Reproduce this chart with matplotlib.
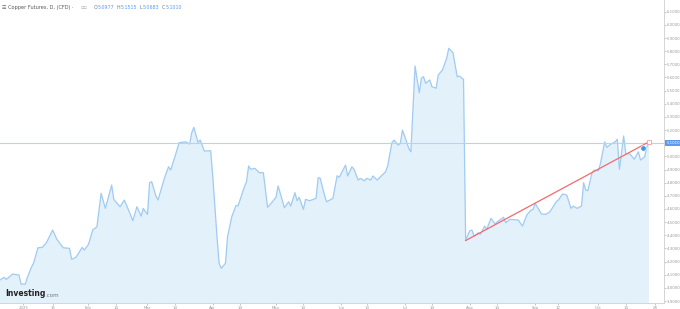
import numpy as np
import pandas as pd
import matplotlib.pyplot as plt

# daily closes (date, price)
dates = [
    "2024-12-21", "2024-12-23", "2024-12-24", "2024-12-27", "2024-12-30", "2024-12-31",
    "2025-01-02", "2025-01-03", "2025-01-05", "2025-01-06", "2025-01-08", "2025-01-10",
    "2025-01-12", "2025-01-15", "2025-01-17", "2025-01-20", "2025-01-23", "2025-01-24",
    "2025-01-26", "2025-01-29", "2025-01-30", "2025-02-01", "2025-02-03", "2025-02-05",
    "2025-02-07", "2025-02-09", "2025-02-12", "2025-02-13", "2025-02-16", "2025-02-18",
    "2025-02-21", "2025-02-22", "2025-02-24", "2025-02-26", "2025-02-27", "2025-03-01",
    "2025-03-02", "2025-03-03", "2025-03-05", "2025-03-06", "2025-03-09", "2025-03-11",
    "2025-03-12", "2025-03-14", "2025-03-16", "2025-03-19", "2025-03-21", "2025-03-22",
    "2025-03-23", "2025-03-25", "2025-03-26", "2025-03-28", "2025-03-31", "2025-04-01",
    "2025-04-03", "2025-04-04", "2025-04-05", "2025-04-07", "2025-04-08", "2025-04-10",
    "2025-04-12", "2025-04-13", "2025-04-16", "2025-04-17", "2025-04-18", "2025-04-19",
    "2025-04-21", "2025-04-23", "2025-04-25", "2025-04-27", "2025-04-28", "2025-05-01",
    "2025-05-02", "2025-05-04", "2025-05-05", "2025-05-07", "2025-05-08", "2025-05-10",
    "2025-05-11", "2025-05-12", "2025-05-14", "2025-05-15", "2025-05-17", "2025-05-20",
    "2025-05-21", "2025-05-22", "2025-05-24", "2025-05-25", "2025-05-28", "2025-05-30",
    "2025-05-31", "2025-06-03", "2025-06-04", "2025-06-06", "2025-06-07", "2025-06-09",
    "2025-06-10", "2025-06-12", "2025-06-13", "2025-06-15", "2025-06-16", "2025-06-18",
    "2025-06-20", "2025-06-22", "2025-06-23", "2025-06-25", "2025-06-26", "2025-06-28",
    "2025-06-29", "2025-06-30", "2025-07-02", "2025-07-03", "2025-07-04", "2025-07-06",
    "2025-07-08", "2025-07-09", "2025-07-10", "2025-07-11", "2025-07-13", "2025-07-14",
    "2025-07-16", "2025-07-17", "2025-07-19", "2025-07-21", "2025-07-22", "2025-07-24",
    "2025-07-26", "2025-07-27", "2025-07-29", "2025-07-30", "2025-08-01", "2025-08-02",
    "2025-08-03", "2025-08-05", "2025-08-06", "2025-08-08", "2025-08-09", "2025-08-11",
    "2025-08-13", "2025-08-14", "2025-08-17", "2025-08-18", "2025-08-20", "2025-08-24",
    "2025-08-26", "2025-08-28", "2025-08-30", "2025-08-31", "2025-09-01", "2025-09-04",
    "2025-09-06", "2025-09-08", "2025-09-11", "2025-09-12", "2025-09-14", "2025-09-16",
    "2025-09-18", "2025-09-19", "2025-09-21", "2025-09-23", "2025-09-24", "2025-09-25",
    "2025-09-26", "2025-09-28", "2025-09-29", "2025-10-01", "2025-10-02", "2025-10-04",
    "2025-10-05", "2025-10-07", "2025-10-09", "2025-10-10", "2025-10-11", "2025-10-13",
    "2025-10-14", "2025-10-16", "2025-10-18", "2025-10-20", "2025-10-21", "2025-10-23",
    "2025-10-24", "2025-10-25",
]
prices = [
    4.060, 4.080, 4.065, 4.105, 4.098, 4.029,
    4.029, 4.080, 4.161, 4.191, 4.305, 4.308,
    4.343, 4.440, 4.369, 4.305, 4.301, 4.217,
    4.232, 4.308, 4.288, 4.331, 4.440, 4.465,
    4.719, 4.605, 4.782, 4.673, 4.617, 4.668,
    4.554, 4.511, 4.617, 4.546, 4.605, 4.559,
    4.800, 4.807, 4.699, 4.668, 4.833, 4.921,
    4.896, 4.997, 5.104, 5.111, 5.094, 5.180,
    5.221, 5.107, 5.124, 5.041, 5.043, 4.845,
    4.389, 4.187, 4.149, 4.187, 4.389, 4.541,
    4.625, 4.625, 4.769, 4.807, 4.927, 4.902,
    4.909, 4.876, 4.876, 4.613, 4.630, 4.689,
    4.775, 4.663, 4.610, 4.655, 4.622, 4.724,
    4.663, 4.689, 4.597, 4.673, 4.663, 4.681,
    4.838, 4.833, 4.706, 4.655, 4.681, 4.853,
    4.841, 4.934, 4.851, 4.921, 4.902, 4.820,
    4.833, 4.815, 4.833, 4.820, 4.851, 4.820,
    4.851, 4.883, 4.927, 5.104, 5.124, 5.086,
    5.099, 5.200, 5.111, 5.061, 5.035, 5.687,
    5.484, 5.594, 5.606, 5.556, 5.581, 5.530,
    5.518, 5.619, 5.657, 5.746, 5.822, 5.788,
    5.606, 5.611, 5.586, 4.364, 4.435, 4.440,
    4.394, 4.419, 4.407, 4.470, 4.445, 4.529,
    4.486, 4.503, 4.537, 4.496, 4.521, 4.516,
    4.470, 4.554, 4.592, 4.597, 4.643, 4.562,
    4.559, 4.579, 4.655, 4.668, 4.714, 4.706,
    4.605, 4.622, 4.605, 4.622, 4.800, 4.744,
    4.739, 4.876, 4.896, 4.891, 4.947, 5.111,
    5.069, 5.094, 5.111, 5.130, 4.902, 5.155,
    5.023, 5.018, 4.978, 5.035, 4.972, 4.997,
    5.073, 5.101,
]

last_close = 5.1010
trend_dates = ["2025-07-30", "2025-10-25"]
trend_prices = [4.36, 5.11]
dot_date = "2025-10-22"
dot_price = 5.066

tick_dates = ["2025-01-01", "2025-01-15", "2025-02-01", "2025-02-14", "2025-03-01",
              "2025-03-14", "2025-04-01", "2025-04-14", "2025-05-01", "2025-05-14",
              "2025-06-01", "2025-06-13", "2025-07-01", "2025-07-14", "2025-08-01",
              "2025-08-14", "2025-09-01", "2025-09-12", "2025-10-01", "2025-10-14",
              "2025-10-28"]
tick_labels = ["2025", "15", "Feb", "14", "Mar", "14", "Apr", "14", "May", "14",
               "Jun", "13", "Jul", "14", "Aug", "14", "Sep", "12", "Oct", "14", "28"]
price_ticks = [3.9, 4.0, 4.1, 4.2, 4.3, 4.4, 4.5, 4.6, 4.7, 4.8, 4.9, 5.0,
               5.2, 5.3, 5.4, 5.5, 5.6, 5.7, 5.8, 5.9, 6.0, 6.1]

x = pd.to_datetime(dates)
y = np.array(prices)

fig = plt.figure(figsize=(6.8, 3.09), dpi=100)
ax = fig.add_axes([0, 0.021, 0.976, 0.979])

line_c = "#9fcbf3"
ax.fill_between(x, y, 3.0, color="#e3f1fb", lw=0)
ax.plot(x, y, color=line_c, lw=0.9)

ax.axhline(last_close, color="#b3d3f7", lw=0.8)
ax.plot(pd.to_datetime(trend_dates), trend_prices, color="#f26b6b", lw=0.9)
ax.plot(pd.to_datetime(trend_dates[-1:]), trend_prices[-1:], marker="s", ms=3,
        mfc="white", mec="#e9a0a6", mew=0.6)
ax.plot(pd.to_datetime([dot_date]), [dot_price], marker="o", ms=4,
        color="#3d9ae8", mec="white", mew=0.5)

ax.set_xlim(pd.Timestamp("2024-12-21"), pd.Timestamp("2025-11-01"))
ax.set_ylim(3.889, 6.189)

ax.set_xticks(pd.to_datetime(tick_dates))
ax.set_xticklabels(tick_labels)
ax.yaxis.tick_right()
ax.set_yticks(price_ticks)
ax.set_yticklabels(["%.4f" % v for v in price_ticks])
ax.tick_params(axis="both", labelsize=2.8, colors="#9a9a9a", length=1.5, width=0.4,
               pad=0.8)
for s in ["top", "left"]:
    ax.spines[s].set_visible(False)
for s in ["bottom", "right"]:
    ax.spines[s].set_color("#cfcfcf")
    ax.spines[s].set_linewidth(0.6)

# current price tag on the axis
ax.text(1.004, last_close, "%.4f" % last_close, transform=ax.get_yaxis_transform(),
        fontsize=2.8, color="white", va="center", ha="left",
        bbox=dict(boxstyle="square,pad=0.25", fc="#5a9bef", ec="none"), clip_on=False)

# header
fig.text(0.003, 0.975, "☰ Copper Futures, D, (CFD) ·", fontsize=3.6, color="#555555",
         va="center")
parts = [("O", "#777777"), ("5.0977", "#5a9bef"), ("  H", "#777777"), ("5.1515", "#5a9bef"),
         ("  L", "#777777"), ("5.0683", "#5a9bef"), ("  C", "#777777"), ("5.1010", "#5a9bef")]
fig.text(0.118, 0.975, "▫▫", fontsize=3.6, color="#aaaaaa", va="center")
xpos = 0.138
fig.canvas.draw()
r = fig.canvas.get_renderer()
for txt, c in parts:
    t = fig.text(xpos, 0.975, txt, fontsize=3.4, color=c, va="center")
    xpos += t.get_window_extent(r).width / fig.bbox.width

# watermark
t1 = fig.text(0.008, 0.036, "Investing", fontsize=5.5, fontweight="bold", color="#222222",
              va="bottom")
w = t1.get_window_extent(r).width / fig.bbox.width
fig.text(0.008 + w, 0.036, ".com", fontsize=4, color="#777777", va="bottom")

fig.savefig("out.png", dpi=100, facecolor="white")
